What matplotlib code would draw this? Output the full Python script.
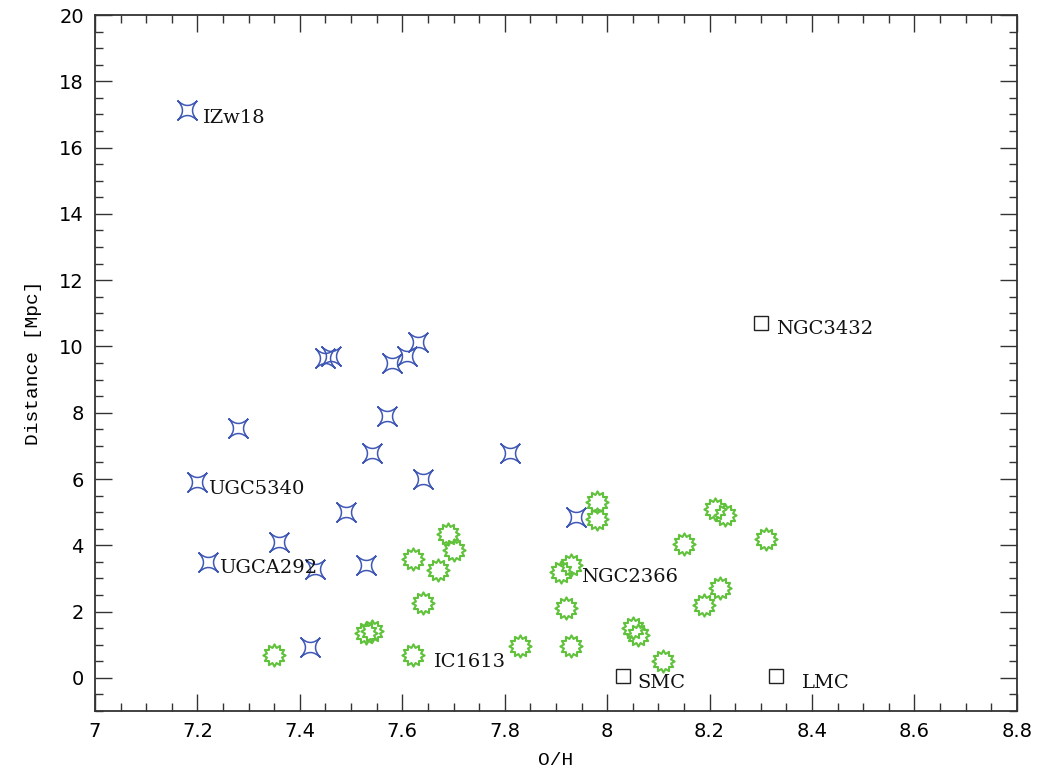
import numpy as np
import matplotlib
matplotlib.use("Agg")
import matplotlib.pyplot as plt
from matplotlib.path import Path
from matplotlib.ticker import MultipleLocator, FormatStrFormatter

# blue stars
star_oh = [7.18, 7.20, 7.22, 7.28, 7.36, 7.42, 7.43, 7.45, 7.46, 7.49,
           7.53, 7.54, 7.57, 7.58, 7.61, 7.63, 7.64, 7.81, 7.94]
star_d = [17.15, 5.9, 3.5, 7.55, 4.1, 0.93, 3.3, 9.65, 9.7, 5.0,
          3.4, 6.8, 7.9, 9.5, 9.7, 10.15, 6.0, 6.8, 4.85]

# green suns
sun_oh = [7.35, 7.53, 7.54, 7.62, 7.62, 7.64, 7.67, 7.69, 7.70, 7.83,
          7.91, 7.93, 7.92, 7.93, 7.98, 7.98, 8.05, 8.06, 8.11, 8.15,
          8.19, 8.22, 8.21, 8.23, 8.31]
sun_d = [0.7, 1.35, 1.4, 3.6, 0.7, 2.25, 3.25, 4.35, 3.85, 0.95,
         3.2, 3.4, 2.1, 0.95, 5.3, 4.8, 1.5, 1.3, 0.5, 4.05,
         2.2, 2.7, 5.1, 4.9, 4.2]

# black squares
sq_oh = [8.30, 8.03, 8.33]
sq_d = [10.7, 0.05, 0.05]

# labelled galaxies: name, O/H, distance, label offset (pixels)
lab_names = ["IZw18", "UGC5340", "UGCA292", "IC1613", "NGC2366", "NGC3432", "SMC", "LMC"]
lab_oh = [7.18, 7.20, 7.22, 7.62, 7.93, 8.30, 8.03, 8.33]
lab_d = [17.15, 5.9, 3.5, 0.7, 3.4, 10.7, 0.05, 0.05]
lab_off = [(16, -8), (11, -7), (11, -6), (21, -7), (10, -12), (15, -6), (15, -7), (26, -7)]


def star4():
    # concave-sided square, points on the diagonals
    c = 0.03
    verts = [(1, 1), (c, 0), (1, -1), (0, -c), (-1, -1),
             (-c, 0), (-1, 1), (0, c), (1, 1)]
    codes = [Path.MOVETO] + [Path.CURVE3, Path.CURVE3] * 4
    return Path(verts, codes)


def sun(n=12, rin=0.7):
    ang = np.linspace(0, 2 * np.pi, 2 * n, endpoint=False) + np.pi / 2
    r = np.where(np.arange(2 * n) % 2 == 0, 1.0, rin)
    v = np.column_stack([r * np.cos(ang), r * np.sin(ang)])
    v = np.vstack([v, v[:1]])
    return Path(v, [Path.MOVETO] + [Path.LINETO] * (2 * n - 1) + [Path.CLOSEPOLY])


fig = plt.figure(figsize=(10.37, 7.69), dpi=100)
ax = fig.add_axes([0.0916, 0.0754, 0.889, 0.905])

ax.plot(star_oh, star_d, linestyle="none", marker=star4(), markersize=14,
        markerfacecolor="none", markeredgecolor="#3f57b5", markeredgewidth=1.1)
ax.plot(sun_oh, sun_d, linestyle="none", marker=sun(), markersize=16,
        markerfacecolor="none", markeredgecolor="#5fc23a", markeredgewidth=1.5)
ax.plot(sq_oh, sq_d, linestyle="none", marker="s", markersize=10.5,
        markerfacecolor="none", markeredgecolor="#222222", markeredgewidth=1.0)

for name, x, y, off in zip(lab_names, lab_oh, lab_d, lab_off):
    ax.annotate(name, (x, y), xytext=off, textcoords="offset pixels",
                ha="left", va="center", fontsize=14, family="DejaVu Serif",
                color="#111111")

ax.set_xlim(7, 8.8)
ax.set_ylim(-1, 20)
ax.xaxis.set_major_locator(MultipleLocator(0.2))
ax.xaxis.set_minor_locator(MultipleLocator(0.05))
ax.yaxis.set_major_locator(MultipleLocator(2))
ax.yaxis.set_minor_locator(MultipleLocator(0.5))
ax.xaxis.set_major_formatter(FormatStrFormatter("%g"))

ax.tick_params(which="both", direction="in", top=True, right=True,
               color="#333333", width=1.0)
ax.tick_params(which="major", length=12, labelsize=14, pad=8)
ax.tick_params(which="minor", length=6)
for s in ax.spines.values():
    s.set_linewidth(1.3)
    s.set_color("#333333")

ax.set_xlabel("O/H", family="Liberation Mono", fontsize=14, labelpad=8)
ax.set_ylabel("Distance [Mpc]", family="Liberation Mono", fontsize=14, labelpad=12)

fig.savefig("out.png", dpi=100)
